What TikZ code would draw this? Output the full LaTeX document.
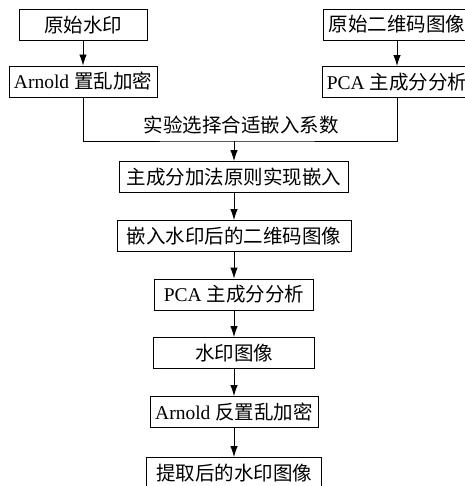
\documentclass[tikz,border=0pt]{standalone}
\usepackage{fontspec}
\setmainfont{Liberation Serif}
\newfontfamily\cjk{Noto Sans CJK SC}
\usetikzlibrary{arrows.meta}
\newcommand{\zh}[1]{{\cjk #1}}

\begin{document}
\begin{tikzpicture}[>={Latex[length=11pt,width=7.5pt]},x=1pt,y=-1pt,line width=0.9pt,
		txt/.style={inner sep=0pt,font=\fontsize{19.5}{22}\selectfont},
		blk/.style={txt,draw,minimum height=31pt}]
				\useasboundingbox (0,0) rectangle (464,486);

				% two inputs
				\node[blk,minimum width=128pt] (orgwm) at (83,25) {\zh{原始水印}};
				\node[blk,minimum width=148pt] (arnold) at (83,81.5) {Arnold \zh{置乱加密}};
				\node[blk,minimum width=147pt] (orgqr) at (397,24.5) {\zh{原始二维码图像}};
				\node[blk,minimum width=150pt] (pca) at (397,82) {PCA \zh{主成分分析}};

				\draw[->] (orgwm) -- (arnold);
				\draw[->] (orgqr) -- (pca);

				\coordinate (join) at (234,141);
				\draw (arnold.south) |- (join) -| (pca.south);
				\node[txt] (sel) at (241,125) {\zh{实验选择合适嵌入系数}};

				% embedding and extraction
				\node[blk,minimum width=229pt] (embed) at (234,177) {\zh{主成分加法原则实现嵌入}};
				\node[blk,minimum width=234pt] (wmqr) at (234,236) {\zh{嵌入水印后的二维码图像}};
				\node[blk,minimum width=159pt] (pcaout) at (234,294.5) {PCA \zh{主成分分析}};
				\node[blk,minimum width=161pt] (wmimg) at (234,353) {\zh{水印图像}};
				\node[blk,minimum width=168pt] (arninv) at (234,412) {Arnold \zh{反置乱加密}};
				\node[blk,minimum width=175pt] (extr) at (234,473) {\zh{提取后的水印图像}};

				\draw[->] (join) -- (embed);
				\draw[->] (embed) -- (wmqr);
				\draw[->] (wmqr) -- (pcaout);
				\draw[->] (pcaout) -- (wmimg);
				\draw[->] (wmimg) -- (arninv);
				\draw[->] (arninv) -- (extr);
			\end{tikzpicture}
\end{document}
